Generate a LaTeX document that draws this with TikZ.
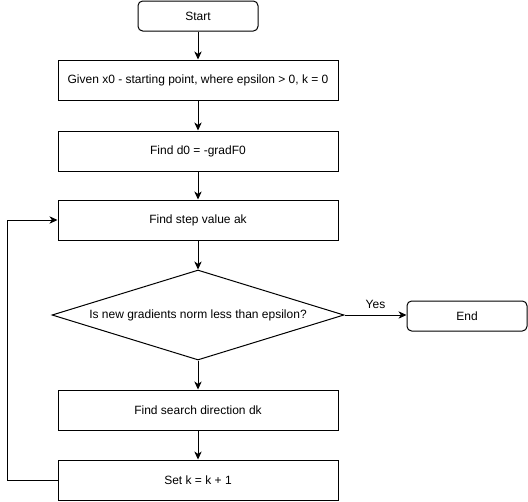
\documentclass[tikz,border=0pt]{standalone}
\usepackage{fontspec}
\setmainfont{Liberation Sans}
\usetikzlibrary{shapes.geometric, arrows.meta}

\begin{document}
\begin{tikzpicture}[x=0.75pt, y=-0.75pt,
        every node/.style={font=\fontsize{9}{11}\selectfont},
        box/.style={draw, line width=0.75pt, minimum width=210pt, minimum height=30pt, inner sep=0pt},
        term/.style={box, rounded corners=3.5pt, minimum width=90pt, minimum height=22.5pt},
        check/.style={draw, line width=0.75pt, diamond, aspect=3.24, inner sep=0pt, minimum width=219pt, minimum height=67.5pt},
        arr/.style={line width=0.75pt, -{Stealth[length=6pt, width=5.5pt, inset=1.8pt]}}]
        \useasboundingbox (0, 0) rectangle (528, 501);

        \node [term] (start) at (198, 16) {Start};
        \node [box] (given) at (198, 80) {Given x0 - starting point, where epsilon > 0, k = 0};
        \node [box] (dzero) at (198, 151) {Find d0 = -gradF0};
        \node [box] (stepval) at (198, 220) {Find step value ak};
        \node [check] (norm) at (198, 315) {Is new gradients norm less than epsilon?};
        \node [term] (stop) at (467, 316) {End};
        \node [box] (direction) at (198, 410) {Find search direction dk};
        \node [box] (setk) at (198, 480) {Set k = k + 1};

        \draw [arr] (start) -- (given);
        \draw [arr] (given) -- (dzero);
        \draw [arr] (dzero) -- (stepval);
        \draw [arr] (stepval) -- (norm);
        \draw [arr] (norm.east) -- (stop.west |- norm.east) node[midway, above, yshift=1pt] {Yes};
        \draw [arr] (norm) -- (direction);
        \draw [arr] (direction) -- (setk);
        % back to the step
        \draw [arr] (setk.west) -- ++(-50, 0) |- (stepval.west);
    \end{tikzpicture}
\end{document}
